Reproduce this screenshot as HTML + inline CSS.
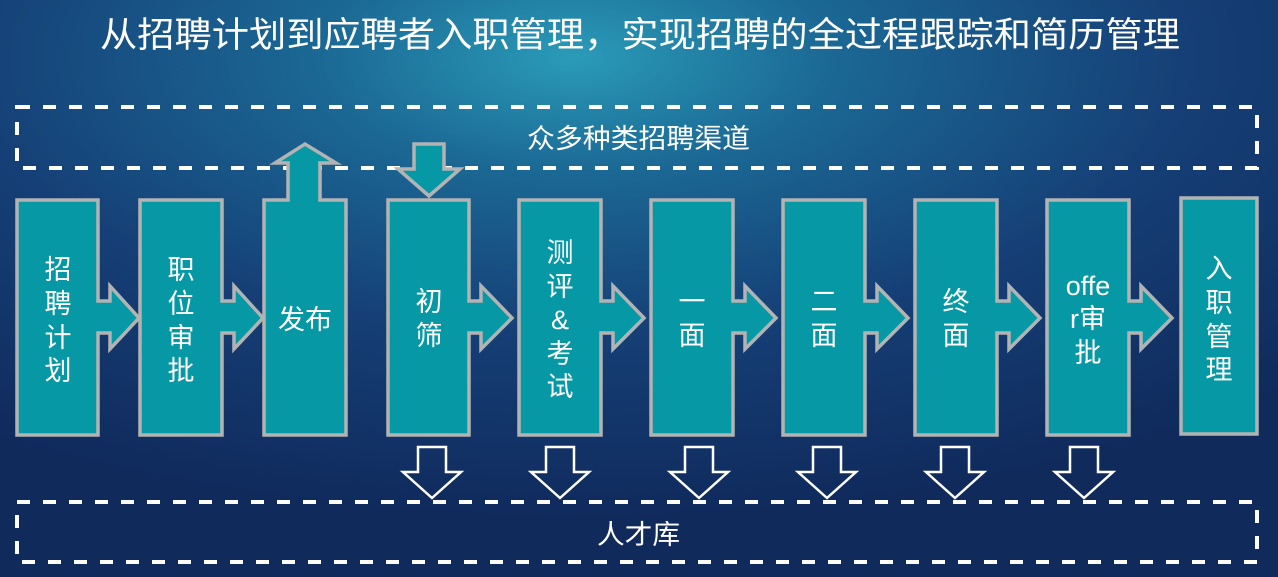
<!DOCTYPE html>
<html><head><meta charset="utf-8"><style>
html,body{margin:0;padding:0;}
body{width:1278px;height:577px;overflow:hidden;background:#143a6e;}
svg{display:block;font-family:"Liberation Sans","Noto Sans CJK SC",sans-serif;}
</style></head><body>
<svg width="1278" height="577" viewBox="0 0 1278 577" xmlns="http://www.w3.org/2000/svg">
<defs>
<radialGradient id="bg" cx="0.45" cy="0.1" r="0.8">
<stop offset="0" stop-color="#2a9bb8"/>
<stop offset="0.25" stop-color="#1b6894"/>
<stop offset="0.6" stop-color="#153f76"/>
<stop offset="1" stop-color="#102a5c"/>
</radialGradient>
</defs>
<rect width="1278" height="577" fill="url(#bg)"/>
<text x="100" y="47" fill="#fff" font-size="35" textLength="1080" lengthAdjust="spacingAndGlyphs">从招聘计划到应聘者入职管理，实现招聘的全过程跟踪和简历管理</text>

<g fill="none" stroke="#fff" stroke-width="4" stroke-dasharray="13 13">
<rect x="17" y="107" width="1240" height="61"/>
<rect x="17" y="502" width="1240" height="60"/>
</g>
<text x="527" y="148" fill="#fff" font-size="27" textLength="223" lengthAdjust="spacingAndGlyphs">众多种类招聘渠道</text>
<text x="597" y="544" fill="#fff" font-size="27" textLength="83" lengthAdjust="spacingAndGlyphs">人才库</text>

<g fill="#0798a6" stroke="#b3b3b3" stroke-width="3.5" stroke-linejoin="miter">
<path d="M17,200H98V301H110V286L139,318L110,349V333H98V435H17Z"/>
<path d="M140,200H222V301H234V286L263,318L234,349V333H222V435H140Z"/>
<path d="M264,200H288V163H275L305,144L336,163H320V200H346V435H264Z"/>
<path d="M388,200H469V301H481V286L512,318L481,349V333H469V435H388Z"/>
<path d="M519,200H601V301H613V286L644,318L613,349V333H601V435H519Z"/>
<path d="M651,200H733V301H745V286L776,318L745,349V333H733V435H651Z"/>
<path d="M783,200H865V301H877V286L908,318L877,349V333H865V435H783Z"/>
<path d="M915,200H997V301H1009V286L1040,318L1009,349V333H997V435H915Z"/>
<path d="M1047,200H1129V301H1141V286L1172,318L1141,349V333H1129V435H1047Z"/>
<rect x="1181" y="198" width="76" height="236"/>
<path d="M414,144H444V169H460L429,196L398,169H414Z"/>
</g>

<g fill="none" stroke="#fff" stroke-width="2.5">
<path d="M418,447H446V472H461L432,498L403,472H418Z"/>
<path d="M546,447H574V472H589L560,498L531,472H546Z"/>
<path d="M685,447H713V472H728L699,498L670,472H685Z"/>
<path d="M813,447H841V472H856L827,498L798,472H813Z"/>
<path d="M941,447H969V472H984L955,498L926,472H941Z"/>
<path d="M1070,447H1098V472H1113L1084,498L1055,472H1070Z"/>
</g>

<g fill="#fff" font-size="27" text-anchor="middle">
<text x="58" y="279">招</text><text x="58" y="313">聘</text><text x="58" y="347">计</text><text x="58" y="380">划</text>
<text x="181" y="279">职</text><text x="181" y="313">位</text><text x="181" y="347">审</text><text x="181" y="380">批</text>
<text x="305" y="329">发布</text>
<text x="429" y="311">初</text><text x="429" y="345">筛</text>
<text x="560" y="262">测</text><text x="560" y="296">评</text><text x="560" y="329">&amp;</text><text x="560" y="363">考</text><text x="560" y="396">试</text>
<text x="692" y="311">一</text><text x="692" y="345">面</text>
<text x="824" y="311">二</text><text x="824" y="345">面</text>
<text x="956" y="311">终</text><text x="956" y="345">面</text>
<text x="1088" y="295">offe</text><text x="1088" y="328">r审</text><text x="1088" y="362">批</text>
<text x="1219" y="278">入</text><text x="1219" y="312">职</text><text x="1219" y="346">管</text><text x="1219" y="379">理</text>
</g>
</svg>
</body></html>
